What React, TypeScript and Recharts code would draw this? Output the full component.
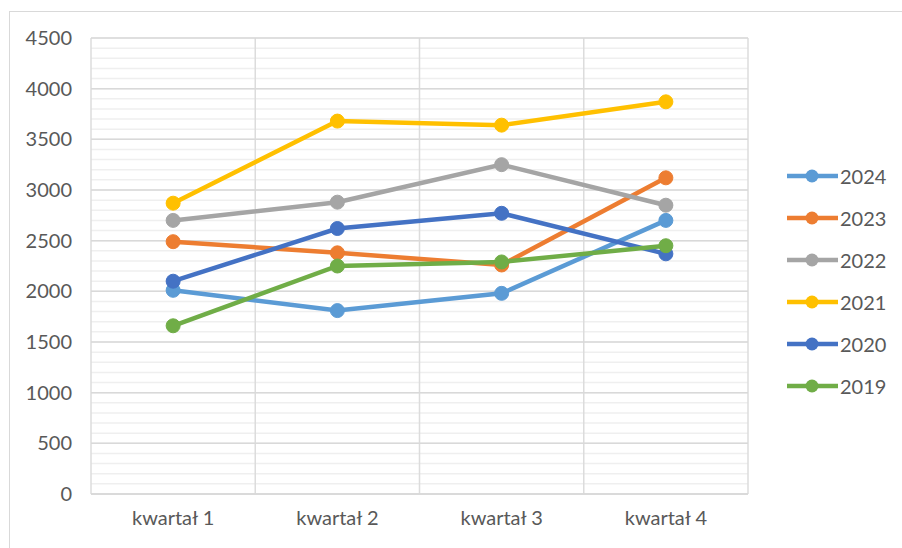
import React from 'react';
import { LineChart, Line, XAxis, YAxis, CartesianGrid, Legend } from 'recharts';

const quarters = ['kwartał 1', 'kwartał 2', 'kwartał 3', 'kwartał 4'];

const y2024 = [2010, 1810, 1980, 2700];
const y2023 = [2490, 2380, 2260, 3120];
const y2022 = [2700, 2880, 3250, 2850];
const y2021 = [2870, 3680, 3640, 3870];
const y2020 = [2100, 2620, 2770, 2370];
const y2019 = [1660, 2250, 2290, 2450];

const yMax = 4500;
const majorTicks = [0, 500, 1000, 1500, 2000, 2500, 3000, 3500, 4000, 4500];
const minorTicks = Array.from({ length: 46 }, (_, i) => i * 100);

const series = [
  { key: '2024', values: y2024, color: '#5B9BD5' },
  { key: '2023', values: y2023, color: '#ED7D31' },
  { key: '2022', values: y2022, color: '#A5A5A5' },
  { key: '2021', values: y2021, color: '#FFC000' },
  { key: '2020', values: y2020, color: '#4472C4' },
  { key: '2019', values: y2019, color: '#70AD47' },
];

const data = quarters.map((q, i) => {
  const row: Record<string, string | number> = { name: q };
  series.forEach((s) => {
    row[s.key] = s.values[i];
  });
  return row;
});

const font = 'Lato, "Liberation Sans", sans-serif';

// minor gridlines every 100
const minorLines = ({ yAxis, offset }: any) =>
  minorTicks.map((v) =>
    yAxis && typeof yAxis.scale === 'function'
      ? yAxis.scale(v)
      : offset.top + offset.height * (1 - v / yMax)
  );

// vertical gridlines on category boundaries
const categoryEdges = ({ offset }: any) =>
  [...quarters.map((_, i) => i), quarters.length].map(
    (i) => offset.left + (offset.width * i) / quarters.length
  );

const renderLegend = (props: any) => {
  const payload = [...(props.payload || [])].sort(
    (a: any, b: any) =>
      series.findIndex((s) => s.key === a.value) - series.findIndex((s) => s.key === b.value)
  );
  return (
    <div>
      {payload.map((p: any) => (
        <div key={p.value} style={{ display: 'flex', alignItems: 'center', height: 42 }}>
          <svg width={55} height={16}>
            <line x1={2} y1={8} x2={53} y2={8} stroke={p.color} strokeWidth={4.5} />
            <circle cx={27} cy={8} r={6.5} fill={p.color} />
          </svg>
          <span style={{ fontFamily: font, fontSize: 20, color: '#595959' }}>{p.value}</span>
        </div>
      ))}
    </div>
  );
};

export default function App() {
  return (
    <div style={{ position: 'absolute', left: 0, top: 0, width: 902, height: 548, background: '#fff', overflow: 'hidden' }}>
      <div
        style={{
          position: 'absolute',
          left: 9,
          top: 11,
          width: 900,
          height: 560,
          borderLeft: '1px solid #d9d9d9',
          borderTop: '1px solid #d9d9d9',
        }}
      />
      <LineChart
        width={902}
        height={548}
        data={data}
        margin={{ top: 38, right: 154, bottom: 0, left: 0 }}
        style={{ position: 'absolute', left: 0, top: 0 }}
      >
        <CartesianGrid vertical={false} horizontalCoordinatesGenerator={minorLines} stroke="#efefef" strokeWidth={1.5} />
        <CartesianGrid horizontal={false} verticalCoordinatesGenerator={categoryEdges} stroke="#dcdcdc" strokeWidth={1.5} />
        <CartesianGrid vertical={false} stroke="#d9d9d9" strokeWidth={1.5} />
        <XAxis
          dataKey="name"
          scale="band"
          height={54}
          tickLine={false}
          tickSize={0}
          tickMargin={17}
          axisLine={{ stroke: '#d9d9d9', strokeWidth: 1.5 }}
          tick={{ fill: '#595959', fontSize: 20, fontFamily: font }}
        />
        <YAxis
          width={91}
          domain={[0, yMax]}
          ticks={majorTicks}
          interval={0}
          tickLine={false}
          tickSize={0}
          tickMargin={19}
          axisLine={false}
          tick={{ fill: '#595959', fontSize: 20, fontFamily: font }}
        />
        <Legend
          layout="horizontal"
          verticalAlign="middle"
          align="center"
          content={renderLegend}
          wrapperStyle={{ left: 785, top: 155, width: 120, height: 260 }}
        />
        {series.map((s) => (
          <Line
            key={s.key}
            dataKey={s.key}
            name={s.key}
            stroke={s.color}
            strokeWidth={4.5}
            dot={{ r: 7, fill: s.color, stroke: s.color, strokeWidth: 1 }}
            activeDot={false}
            isAnimationActive={false}
          />
        ))}
      </LineChart>
    </div>
  );
}
